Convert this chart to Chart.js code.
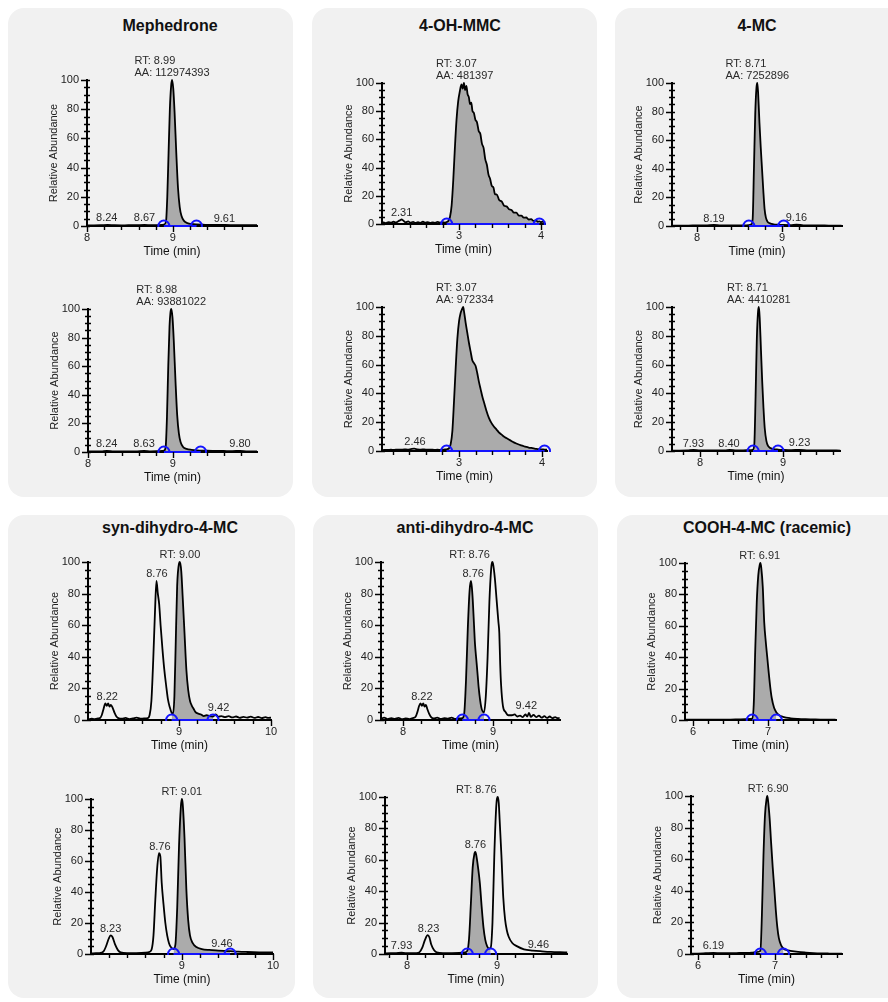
<!DOCTYPE html>
<html>
<head>
<meta charset="utf-8">
<script src="https://cdn.jsdelivr.net/npm/chart.js@4.4.1/dist/chart.umd.min.js"></script>
<style>
  body { margin: 0; background: #fff; }
  #page { position: relative; width: 888px; height: 1002px; overflow: hidden; }
  .panel { position: absolute; background: #f1f1f1; border-radius: 16px; }
  .title { position: absolute; font: bold 16px "Liberation Sans", Arial, sans-serif; color: #111;
           transform: translate(-50%, -50%); white-space: nowrap; }
  canvas { position: absolute; }
</style>
</head>
<body>
<div id="page"></div>
<script>
const FONT = '"Liberation Sans", Arial, sans-serif';

const compounds = ["Mephedrone", "4-OH-MMC", "4-MC", "syn-dihydro-4-MC", "anti-dihydro-4-MC", "COOH-4-MC (racemic)"];

// chromatogram traces: [time (min), relative abundance]
const mephTop = [[8.00,0.4],[8.08,0.4],[8.16,0.5],[8.24,0.8],[8.32,0.5],[8.40,0.4],[8.48,0.5],[8.56,0.5],[8.67,0.8],[8.75,0.5],[8.82,0.6],[8.87,0.7],[8.895,0.9],[8.92,3],[8.935,20],[8.95,50],[8.965,80],[8.98,96],[8.99,100],[9.005,94],[9.02,78],[9.04,50],[9.06,26],[9.08,13],[9.10,7],[9.13,3.5],[9.17,2],[9.22,1.4],[9.275,1.1],[9.35,0.9],[9.45,0.7],[9.61,0.7],[9.70,0.6],[9.80,0.5],[9.98,0.5]];
const mephBottom = [[8.00,0.4],[8.08,0.4],[8.16,0.5],[8.22,0.8],[8.30,0.5],[8.40,0.4],[8.48,0.5],[8.56,0.5],[8.66,0.8],[8.74,0.5],[8.82,0.6],[8.87,0.7],[8.894,0.9],[8.915,4],[8.93,25],[8.945,60],[8.96,88],[8.97,97],[8.98,100],[8.995,94],[9.01,78],[9.03,50],[9.05,26],[9.07,13],[9.09,7],[9.12,3.5],[9.16,2.2],[9.22,1.5],[9.28,1.1],[9.326,1.0],[9.40,0.9],[9.50,0.8],[9.60,0.7],[9.70,0.6],[9.79,0.8],[9.88,0.5],[9.99,0.5]];
const ohTop = [[2.06,0.8],[2.08,1.2],[2.11,0.6],[2.14,1.4],[2.17,0.9],[2.20,1.6],[2.23,1.0],[2.26,2.0],[2.28,2.6],[2.30,3.2],[2.32,2.4],[2.35,1.2],[2.38,1.8],[2.41,0.9],[2.44,1.5],[2.47,0.7],[2.50,1.3],[2.53,0.8],[2.56,1.6],[2.59,0.9],[2.62,1.4],[2.65,0.7],[2.68,1.2],[2.71,0.8],[2.74,1.5],[2.77,0.9],[2.80,1.3],[2.83,1.0],[2.85,1.4],[2.87,2.2],[2.89,5],[2.91,13],[2.93,31],[2.95,54],[2.97,74],[2.99,87],[3.01,94],[3.03,99],[3.045,96],[3.06,100],[3.075,95],[3.09,98],[3.105,92],[3.12,90],[3.135,85],[3.15,86],[3.165,80],[3.18,79],[3.20,74],[3.22,72],[3.24,66],[3.26,64],[3.28,57],[3.30,54],[3.32,46],[3.34,42],[3.36,35],[3.38,32],[3.40,27],[3.42,26],[3.44,21],[3.46,21],[3.49,17],[3.52,16],[3.55,13],[3.58,12.5],[3.61,10.5],[3.64,10],[3.67,8],[3.70,8],[3.73,6],[3.76,6],[3.79,4.5],[3.82,4.6],[3.85,3.2],[3.88,3.4],[3.91,2.2],[3.94,2.6],[3.96,1.6],[3.98,1.9],[4.00,1.3],[4.02,1.6],[4.05,1.1]];
const ohBottom = [[2.07,0.6],[2.10,0.8],[2.14,0.7],[2.18,0.9],[2.22,0.8],[2.26,1.0],[2.30,0.9],[2.34,1.1],[2.38,1.0],[2.42,1.3],[2.46,1.6],[2.50,1.2],[2.54,1.0],[2.58,1.1],[2.62,0.9],[2.66,1.0],[2.70,0.8],[2.74,0.9],[2.78,0.8],[2.82,1.0],[2.85,1.2],[2.88,2],[2.90,5],[2.92,14],[2.94,35],[2.96,58],[2.98,78],[3.00,90],[3.02,96],[3.04,99],[3.05,100],[3.06,97],[3.08,89],[3.10,82],[3.12,75],[3.14,69],[3.16,63],[3.18,61],[3.20,59],[3.22,54],[3.24,48],[3.26,43],[3.28,38],[3.30,34],[3.33,28],[3.36,23],[3.39,19.5],[3.42,17],[3.45,15],[3.48,13],[3.51,11.5],[3.54,10],[3.57,9],[3.60,8],[3.63,7],[3.66,6],[3.69,5.2],[3.72,4.5],[3.75,3.9],[3.78,3.3],[3.81,2.8],[3.84,2.4],[3.87,2.1],[3.90,1.8],[3.93,1.5],[3.96,1.3],[3.99,1.1],[4.03,1.0],[4.06,0.9]];
const mcTop = [[7.71,0.3],[7.80,0.3],[7.90,0.3],[8.00,0.4],[8.10,0.4],[8.20,0.7],[8.28,0.4],[8.36,0.4],[8.44,0.4],[8.52,0.5],[8.58,0.5],[8.61,0.6],[8.64,1.2],[8.655,5],[8.67,40],[8.685,78],[8.70,97],[8.71,100],[8.72,92],[8.735,72],[8.75,55],[8.765,40],[8.78,25],[8.795,12],[8.81,6],[8.83,3],[8.86,1.8],[8.90,1.2],[8.95,0.9],[9.02,0.7],[9.10,0.6],[9.17,0.9],[9.25,0.5],[9.35,0.4],[9.45,0.4],[9.55,0.3],[9.70,0.3]];
const mcBottom = [[7.67,0.3],[7.75,0.3],[7.85,0.4],[7.92,0.7],[8.00,0.4],[8.10,0.4],[8.20,0.4],[8.30,0.4],[8.36,0.7],[8.44,0.4],[8.52,0.5],[8.60,0.6],[8.64,1.0],[8.655,5],[8.67,38],[8.685,78],[8.70,97],[8.71,100],[8.72,92],[8.735,70],[8.75,48],[8.765,30],[8.78,16],[8.80,7],[8.82,3.5],[8.85,2],[8.89,1.3],[8.94,1.0],[9.00,0.8],[9.10,0.6],[9.20,0.8],[9.30,0.5],[9.40,0.4],[9.55,0.4],[9.69,0.3]];
const synTop = [[8.02,0.5],[8.05,0.8],[8.08,0.5],[8.11,0.9],[8.14,1.2],[8.16,3],[8.18,7],[8.20,10.5],[8.215,9],[8.23,10.5],[8.245,8.5],[8.26,9.5],[8.28,7.5],[8.30,4.5],[8.32,2.2],[8.34,1.2],[8.38,0.8],[8.42,1.3],[8.46,0.6],[8.50,1.0],[8.54,1.5],[8.58,0.8],[8.62,1.0],[8.66,1.2],[8.68,3],[8.70,12],[8.72,38],[8.74,70],[8.755,88],[8.77,80],[8.785,73],[8.80,60],[8.82,45],[8.84,32],[8.86,22],[8.88,13],[8.90,8],[8.92,4.5],[8.935,4],[8.95,15],[8.965,50],[8.98,85],[9.00,99],[9.01,100],[9.025,94],[9.04,78],[9.06,55],[9.08,32],[9.10,19],[9.12,12],[9.14,9],[9.16,7],[9.18,5],[9.21,4],[9.24,3.5],[9.27,2.5],[9.30,3],[9.33,2.5],[9.37,2.2],[9.40,3.5],[9.43,2],[9.46,2.5],[9.50,1.8],[9.54,2.4],[9.58,1.6],[9.62,2.2],[9.66,1.4],[9.70,2.0],[9.74,1.5],[9.78,2.1],[9.82,1.3],[9.86,1.9],[9.90,1.2],[9.94,1.8],[9.97,1.3],[10.0,1.5]];
const synBottom = [[8.01,0.4],[8.06,0.5],[8.10,0.6],[8.14,1.5],[8.17,5],[8.20,10],[8.22,12],[8.24,11],[8.27,6],[8.30,2.5],[8.33,1],[8.40,0.6],[8.50,0.6],[8.60,0.8],[8.65,1.5],[8.67,3],[8.69,12],[8.71,35],[8.73,55],[8.75,65],[8.765,63],[8.78,46],[8.80,32],[8.82,20],[8.84,12],[8.86,7],[8.88,4.5],[8.91,3.2],[8.93,6],[8.95,30],[8.97,70],[8.99,95],[9.00,100],[9.01,97],[9.03,75],[9.05,42],[9.07,22],[9.09,12],[9.12,7],[9.16,4.5],[9.22,3.2],[9.30,2.6],[9.40,2.2],[9.46,2.0],[9.53,1.8],[9.62,1.5],[9.72,1.3],[9.85,1.1],[10.0,1.0]];
const antiTop = [[7.76,0.8],[7.79,1.5],[7.83,0.6],[7.87,1.2],[7.91,0.7],[7.95,1.3],[7.99,0.5],[8.03,1.0],[8.07,0.6],[8.11,1.2],[8.14,2],[8.16,5],[8.18,9],[8.195,10.5],[8.21,9],[8.225,10.5],[8.24,8.5],[8.255,9.5],[8.27,7],[8.29,4],[8.31,2],[8.34,1.0],[8.38,1.5],[8.42,0.7],[8.46,1.2],[8.50,0.8],[8.54,1.5],[8.58,0.7],[8.62,1.0],[8.66,1.2],[8.68,4],[8.70,25],[8.72,58],[8.74,82],[8.755,88],[8.765,84],[8.775,76],[8.79,59],[8.80,48],[8.815,38],[8.83,28],[8.84,21],[8.87,8],[8.90,4.8],[8.92,15],[8.94,40],[8.96,75],[8.98,96],[8.99,100],[9.00,99],[9.02,90],[9.04,76],[9.06,62],[9.07,55],[9.08,35],[9.09,22],[9.11,9],[9.14,5],[9.17,3],[9.21,3],[9.24,3.5],[9.27,2.2],[9.30,2.8],[9.33,1.8],[9.36,3.5],[9.38,2.2],[9.40,4.5],[9.42,2],[9.45,3.2],[9.48,1.8],[9.51,2.8],[9.54,1.5],[9.57,2.4],[9.60,1.3],[9.63,2.2],[9.66,1.2],[9.69,1.8],[9.72,1.1],[9.74,1.4]];
const antiBottom = [[7.76,0.4],[7.82,0.5],[7.88,0.6],[7.94,0.8],[7.98,0.6],[8.04,0.5],[8.10,0.6],[8.14,1.2],[8.17,4],[8.20,9],[8.23,12],[8.25,10.5],[8.27,6],[8.30,2.5],[8.33,1],[8.40,0.6],[8.50,0.6],[8.58,0.7],[8.64,1.0],[8.67,2],[8.69,10],[8.71,32],[8.73,55],[8.75,64],[8.76,65],[8.77,63],[8.79,55],[8.81,45],[8.83,30],[8.85,17],[8.87,9],[8.89,5],[8.91,3.5],[8.93,4],[8.95,20],[8.97,62],[8.99,92],[9.00,99],[9.01,100],[9.02,96],[9.03,85],[9.05,62],[9.07,36],[9.09,22],[9.11,15],[9.13,11],[9.17,7],[9.22,5],[9.30,3],[9.40,2.2],[9.50,1.7],[9.60,1.3],[9.70,1.1],[9.78,1.0]];
const coohTop = [[5.90,0.2],[6.00,0.2],[6.10,0.2],[6.20,0.2],[6.30,0.3],[6.40,0.3],[6.50,0.3],[6.60,0.4],[6.70,0.5],[6.76,0.7],[6.79,1.0],[6.81,10],[6.83,45],[6.85,75],[6.87,92],[6.89,99],[6.90,100],[6.91,97],[6.93,85],[6.95,62],[6.97,50],[6.99,40],[7.01,30],[7.03,21],[7.05,14],[7.08,8],[7.11,5],[7.15,3],[7.20,2],[7.30,1.1],[7.40,0.7],[7.50,0.5],[7.60,0.4],[7.70,0.3],[7.80,0.3],[7.90,0.2]];
const coohBottom = [[5.92,0.2],[6.00,0.3],[6.10,0.5],[6.20,0.7],[6.30,0.5],[6.40,0.5],[6.50,0.6],[6.60,0.7],[6.70,0.9],[6.76,1.2],[6.81,2],[6.83,25],[6.85,62],[6.87,88],[6.89,98],[6.90,100],[6.91,97],[6.93,86],[6.95,70],[6.97,55],[6.99,42],[7.01,28],[7.03,17],[7.05,10],[7.08,5.5],[7.11,3.5],[7.15,2.5],[7.20,2],[7.30,1.3],[7.40,0.9],[7.50,0.6],[7.60,0.4],[7.70,0.3],[7.87,0.2]];

// integration windows [start, end] (blue markers, shaded area)
const windows = [[8.895, 9.275], [8.894, 9.326], [2.85, 3.98], [2.85, 4.03], [8.61, 9.02], [8.64, 8.94],
                 [8.92, 9.37], [8.91, 9.53], [8.66, 8.90], [8.67, 8.93], [6.79, 7.11], [6.81, 7.11]];

// peak labels [time, text]
const peakLabels = [
  [[8.23, "8.24"], [8.67, "8.67"], [9.60, "9.61"]],
  [[8.22, "8.24"], [8.66, "8.63"], [9.79, "9.80"]],
  [[2.30, "2.31"]],
  [[2.47, "2.46"]],
  [[8.20, "8.19"], [9.17, "9.16"]],
  [[7.92, "7.93"], [8.35, "8.40"], [9.20, "9.23"]],
  [[8.22, "8.22"], [8.76, "8.76"], [9.43, "9.42"]],
  [[8.22, "8.23"], [8.76, "8.76"], [9.44, "9.46"]],
  [[8.21, "8.22"], [8.78, "8.76"], [9.37, "9.42"]],
  [[7.94, "7.93"], [8.24, "8.23"], [8.76, "8.76"], [9.46, "9.46"]],
  [],
  [[6.20, "6.19"]]
];

// RT / AA annotations [time, lines...]
const rtLabels = [
  [8.99, "RT: 8.99", "AA: 112974393"],
  [8.98, "RT: 8.98", "AA: 93881022"],
  [3.07, "RT: 3.07", "AA: 481397"],
  [3.07, "RT: 3.07", "AA: 972334"],
  [8.71, "RT: 8.71", "AA: 7252896"],
  [8.71, "RT: 8.71", "AA: 4410281"],
  [9.01, "RT: 9.00"],
  [9.00, "RT: 9.01"],
  [8.74, "RT: 8.76"],
  [8.77, "RT: 8.76"],
  [6.89, "RT: 6.91"],
  [6.91, "RT: 6.90"]
];

// labelled x ticks per column of panels
const tickMeph = [8, 9], tickOh = [3, 4], tickMc = [8, 9], tickSyn = [9, 10], tickAnti = [8, 9], tickCooh = [6, 7];
const yLabelled = [0, 20, 40, 60, 80, 100];

// panel boxes [left, top, width, height], title centre [x, y]
const panels = [
  { box: [8, 8, 285, 489], at: [170, 26] },
  { box: [312, 8, 285, 489], at: [460, 26] },
  { box: [615, 8, 290, 489], at: [757, 26] },
  { box: [8, 515, 287, 483], at: [170, 528] },
  { box: [313, 515, 285, 483], at: [465, 528] },
  { box: [617, 515, 290, 483], at: [767, 528] }
];

// plot area [left, top, right, bottom] and x range
const plots = [
  { area: [87, 80, 257, 226],  range: [8.0, 9.98],    trace: mephTop,    ticks: tickMeph },
  { area: [88, 309, 257, 452], range: [8.0, 9.99],    trace: mephBottom, ticks: tickMeph },
  { area: [382, 83, 545, 224], range: [2.061, 4.049], trace: ohTop,      ticks: tickOh },
  { area: [382, 307, 547, 451],range: [2.072, 4.06],  trace: ohBottom,   ticks: tickOh },
  { area: [672, 83, 842, 226], range: [7.706, 9.706], trace: mcTop,      ticks: tickMc },
  { area: [672, 307, 840, 451],range: [7.663, 9.687], trace: mcBottom,   ticks: tickMc },
  { area: [88, 562, 271, 720], range: [8.011, 10.0],  trace: synTop,     ticks: tickSyn },
  { area: [91, 799, 273, 954], range: [8.005, 10.0],  trace: synBottom,  ticks: tickSyn },
  { area: [381, 562, 560, 720],range: [7.756, 9.744], trace: antiTop,    ticks: tickAnti },
  { area: [385, 797, 567, 954],range: [7.756, 9.778], trace: antiBottom, ticks: tickAnti },
  { area: [685, 563, 836, 720],range: [5.893, 7.907], trace: coohTop,    ticks: tickCooh },
  { area: [691, 796, 842, 954],range: [5.909, 7.87],  trace: coohBottom, ticks: tickCooh }
];

const page = document.getElementById("page");

panels.forEach((p, i) => {
  const box = document.createElement("div");
  box.className = "panel";
  box.style.left = p.box[0] + "px";
  box.style.top = p.box[1] + "px";
  box.style.width = p.box[2] + "px";
  box.style.height = p.box[3] + "px";
  page.appendChild(box);
  const t = document.createElement("div");
  t.className = "title";
  t.textContent = compounds[i];
  t.style.left = p.at[0] + "px";
  t.style.top = p.at[1] + "px";
  page.appendChild(t);
});

const minorTicks = (min, max) => {
  const out = [];
  for (let k = Math.ceil(min * 5 - 1e-9); k <= Math.floor(max * 5 + 1e-9); k++) out.push({ value: k / 5 });
  return out;
};

// tick marks + text annotations, placed through the chart's own scales
const marks = (p, i) => ({
  id: "marks",
  afterDraw(chart) {
    const { ctx, chartArea: a, scales: { x, y } } = chart;
    ctx.save();
    ctx.strokeStyle = "#000";
    ctx.lineWidth = 1.4;
    ctx.beginPath();
    x.ticks.forEach(t => {
      const px = Math.round(x.getPixelForValue(t.value)) + 0.5;
      ctx.moveTo(px, a.bottom);
      ctx.lineTo(px, a.bottom + (p.ticks.includes(t.value) ? 6 : 4));
    });
    y.ticks.forEach(t => {
      const py = Math.round(y.getPixelForValue(t.value)) + 0.5;
      ctx.moveTo(a.left - (yLabelled.includes(t.value) ? 6 : 3), py);
      ctx.lineTo(a.left + 3, py);
    });
    ctx.stroke();

    ctx.font = "11px " + FONT;
    ctx.fillStyle = "#2a2a2a";
    ctx.textBaseline = "bottom";
    ctx.textAlign = "center";
    peakLabels[i].forEach(([t, text]) => {
      const near = p.trace.filter(q => Math.abs(q[0] - t) <= 0.04).map(q => q[1]);
      const top = near.length ? Math.max(...near) : 0;
      ctx.fillText(text, x.getPixelForValue(t), y.getPixelForValue(top) - 1);
    });
    const [rt, ...lines] = rtLabels[i];
    const w = Math.max(...lines.map(s => ctx.measureText(s).width));
    const left = x.getPixelForValue(rt) - w / 2;
    ctx.textAlign = "left";
    lines.forEach((s, k) => {
      ctx.fillText(s, left, y.getPixelForValue(100) - 2 - (lines.length - 1 - k) * 12);
    });
    ctx.restore();
  }
});

plots.forEach((p, i) => {
  const [L, T, R, B] = p.area;
  const w = R - L + 40 + 15, h = B - T + 45 + 33;
  const cv = document.createElement("canvas");
  cv.width = w;
  cv.height = h;
  cv.style.left = (L - 40) + "px";
  cv.style.top = (T - 45) + "px";
  cv.style.width = w + "px";
  cv.style.height = h + "px";
  page.appendChild(cv);

  const pts = p.trace.map(([x, y]) => ({ x, y }));
  const win = windows[i];
  const shaded = pts.filter(q => q.x >= win[0] - 1e-6 && q.x <= win[1] + 1e-6);

  new Chart(cv, {
    type: "line",
    data: {
      datasets: [
        { data: pts, borderColor: "#000", borderWidth: 1.8, pointRadius: 0, fill: false,
          cubicInterpolationMode: "monotone", clip: false, order: 1 },
        { data: shaded, borderWidth: 0, borderColor: "rgba(0,0,0,0)", backgroundColor: "#ababab",
          pointRadius: 0, fill: "origin", cubicInterpolationMode: "monotone", order: 2 },
        { data: [{ x: win[0], y: 0 }, { x: win[1], y: 0 }], borderColor: "#1414ff", borderWidth: 2,
          pointRadius: 5.5, pointStyle: "circle", pointBorderColor: "#1414ff", pointBorderWidth: 2,
          pointBackgroundColor: "rgba(0,0,0,0)", fill: false,
          clip: { left: false, right: false, top: false, bottom: 1 }, order: 0 }
      ]
    },
    options: {
      responsive: false,
      animation: false,
      events: [],
      layout: { padding: { top: 45, right: 15, left: 0, bottom: 0 } },
      plugins: { legend: { display: false }, tooltip: { enabled: false } },
      scales: {
        x: {
          type: "linear",
          min: p.range[0],
          max: p.range[1],
          afterBuildTicks: s => { s.ticks = minorTicks(p.range[0], p.range[1]); },
          afterFit: s => { s.height = 33; },
          grid: { drawOnChartArea: false, drawTicks: false },
          border: { color: "#000", width: 2 },
          ticks: { autoSkip: false, maxRotation: 0, padding: 5, color: "#222", font: { size: 11, family: FONT },
                   callback: v => p.ticks.includes(v) ? String(v) : "" },
          title: { display: true, text: "Time (min)", padding: 0, color: "#111", font: { size: 12, family: FONT } }
        },
        y: {
          min: 0,
          max: 100,
          afterBuildTicks: s => {
            const out = [];
            for (let v = 0; v <= 100; v += 5) out.push({ value: v });
            s.ticks = out;
          },
          afterFit: s => { s.width = 40; },
          grid: { drawOnChartArea: false, drawTicks: false },
          border: { color: "#000", width: 2 },
          ticks: { autoSkip: false, padding: 8, color: "#222", font: { size: 11, family: FONT },
                   callback: v => yLabelled.includes(v) ? String(v) : "" },
          title: { display: true, text: "Relative Abundance", padding: 0, color: "#222", font: { size: 11, family: FONT } }
        }
      }
    },
    plugins: [marks(p, i)]
  });
});
</script>
</body>
</html>
